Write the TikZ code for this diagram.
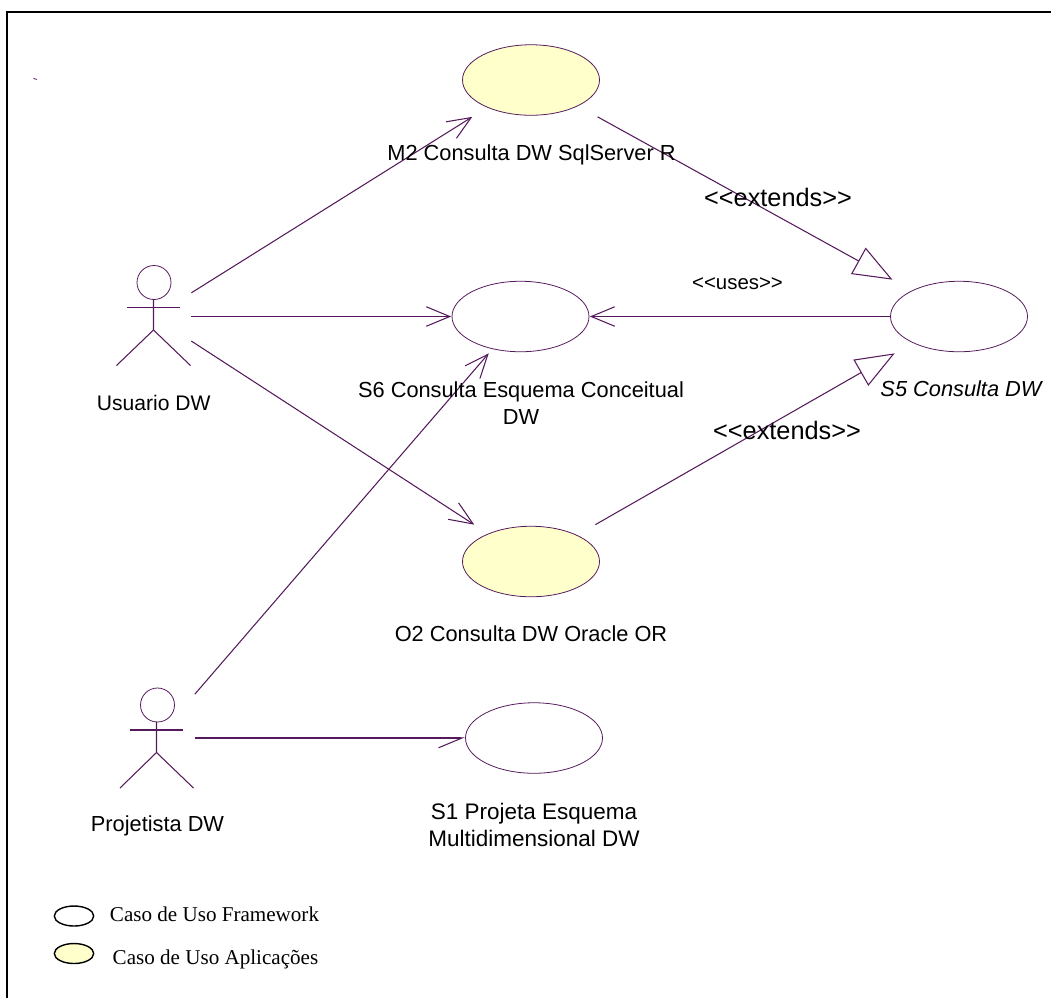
\documentclass[tikz,border=0pt]{standalone}
\usepackage{fontspec}
\setmainfont{Liberation Sans}
\newfontfamily\legendfont{Liberation Serif}
\usepackage{xcolor}
\usetikzlibrary{arrows.meta}
\definecolor{roseline}{HTML}{551A5B}
\definecolor{rosefill}{HTML}{FFFFCC}
\tikzset{
    casebox/.style={rectangle, inner sep=0pt, minimum width=2.76cm, minimum height=1.46cm},
    actorbox/.style={rectangle, inner sep=0pt, minimum width=1.5cm, minimum height=2cm},
    caseline/.style={draw=roseline, line width=0.45pt},
    assoc/.style={draw=roseline, line width=0.6pt, -{Straight Barb[length=0.47cm, width=0.39cm]}},
    halfassoc/.style={draw=roseline, line width=0.6pt, -{Straight Barb[length=0.47cm, width=0.39cm, right]}},
    extendsline/.style={draw=roseline, line width=0.6pt, -{Triangle[open, length=0.78cm, width=0.6cm]}},
    rosetext/.style={anchor=base, inner sep=0pt, align=center, font=\fontsize{12.4}{15.6}\selectfont},
    legendtext/.style={anchor=base, inner sep=0pt, font=\legendfont\fontsize{12}{14}\selectfont}
}

\begin{document}
\begin{tikzpicture}
    \useasboundingbox (0,0) rectangle (21.02,-19.96);
    \draw[line width=1.1pt] (21.02,-0.234) -- (0.146,-0.234) -- (0.146,-19.96);
    \draw[caseline] (0.67,-1.566) -- (0.734,-1.59);

%____________________________________________________________________________________________________
    \node[casebox] (m2) at (10.62,-1.60) {};
    \node[casebox] (s6) at (10.41,-6.33) {};
    \node[casebox] (s5) at (19.18,-6.33) {};
    \node[casebox] (o2) at (10.62,-11.23) {};
    \node[casebox] (s1) at (10.68,-14.76) {};

    \draw[caseline, fill=rosefill] (m2.center) ellipse (1.37 and 0.705);
    \draw[caseline] (s6.center) ellipse (1.37 and 0.705);
    \draw[caseline] (s5.center) ellipse (1.37 and 0.705);
    \draw[caseline, fill=rosefill] (o2.center) ellipse (1.37 and 0.705);
    \draw[caseline] (s1.center) ellipse (1.37 and 0.705);
%____________________________________________________________________________________________________
    \node[actorbox] (usuario) at (3.07,-6.33) {};
    \draw[caseline] (3.08,-5.65) circle (0.34);
    \draw[caseline, line width=0.6pt] (2.54,-6.15) -- (3.6,-6.15);
    \draw[caseline, line width=0.6pt] (3.07,-5.99) -- (3.07,-6.6) -- (2.33,-7.31);
    \draw[caseline, line width=0.6pt] (3.07,-6.6) -- (3.81,-7.31);

    \node[actorbox] (projetista) at (3.14,-14.76) {};
    \draw[caseline] (3.15,-14.10) circle (0.34);
    \draw[caseline, line width=0.6pt] (2.6,-14.6) -- (3.66,-14.6);
    \draw[caseline, line width=0.6pt] (3.13,-14.43) -- (3.13,-15.05) -- (2.4,-15.76);
    \draw[caseline, line width=0.6pt] (3.13,-15.05) -- (3.87,-15.76);
%____________________________________________________________________________________________________
    \draw[assoc] (usuario) -- (m2);
    \draw[assoc] (usuario) -- (s6);
    \draw[assoc] (usuario) -- (o2);
    \draw[assoc] (projetista) -- (s6);
    \draw[halfassoc] (projetista) -- (s1);
    \draw[assoc] (s5) -- (s6);
    \draw[extendsline] (m2) -- (s5);
    \draw[extendsline] (o2) -- (s5);
%____________________________________________________________________________________________________
    \node[rosetext] (m2label) at (10.63,-3.214) {M2 Consulta DW SqlServer R};
    \node[rosetext, anchor=north] (s6label) at (10.42,-7.62) {S6 Consulta Esquema Conceitual~\\DW};
    \node[rosetext, font=\fontsize{12.4}{15.6}\selectfont\itshape] (s5label) at (19.22,-7.92) {S5 Consulta DW};
    \node[rosetext] (o2label) at (10.62,-12.834) {O2 Consulta DW Oracle OR};
    \node[rosetext, anchor=north, font=\fontsize{12.8}{15.6}\selectfont] (s1label) at (10.68,-16.05) {S1 Projeta Esquema~\\Multidimensional DW};
    \node[rosetext, font=\fontsize{12}{15.6}\selectfont] (usuariolabel) at (3.076,-8.2) {Usuario DW};
    \node[rosetext] (projetistalabel) at (3.15,-16.634) {Projetista DW};

    \node[rosetext, font=\fontsize{14.4}{16}\selectfont] (extendsa) at (15.56,-4.12) {<{}<extends>{}>};
    \node[rosetext, font=\fontsize{14.4}{16}\selectfont] (extendsb) at (15.74,-8.78) {<{}<extends>{}>};
    \node[rosetext, font=\fontsize{11.6}{14}\selectfont] (uses) at (14.75,-5.78) {<{}<uses>{}>};
%____________________________________________________________________________________________________
    \node[inner sep=0pt] (framework) at (1.48,-18.32) {};
    \draw[line width=0.8pt] (framework) ellipse (0.394 and 0.2);
    \node[legendtext] (frameworklabel) at (4.29,-18.434) {Caso de Uso Framework};

    \node[inner sep=0pt] (aplicacoes) at (1.48,-19.07) {};
    \draw[line width=0.8pt, fill=rosefill] (aplicacoes) ellipse (0.394 and 0.2);
    \node[legendtext] (aplicacoeslabel) at (4.31,-19.28) {Caso de Uso Aplicações};
\end{tikzpicture}
\end{document}
